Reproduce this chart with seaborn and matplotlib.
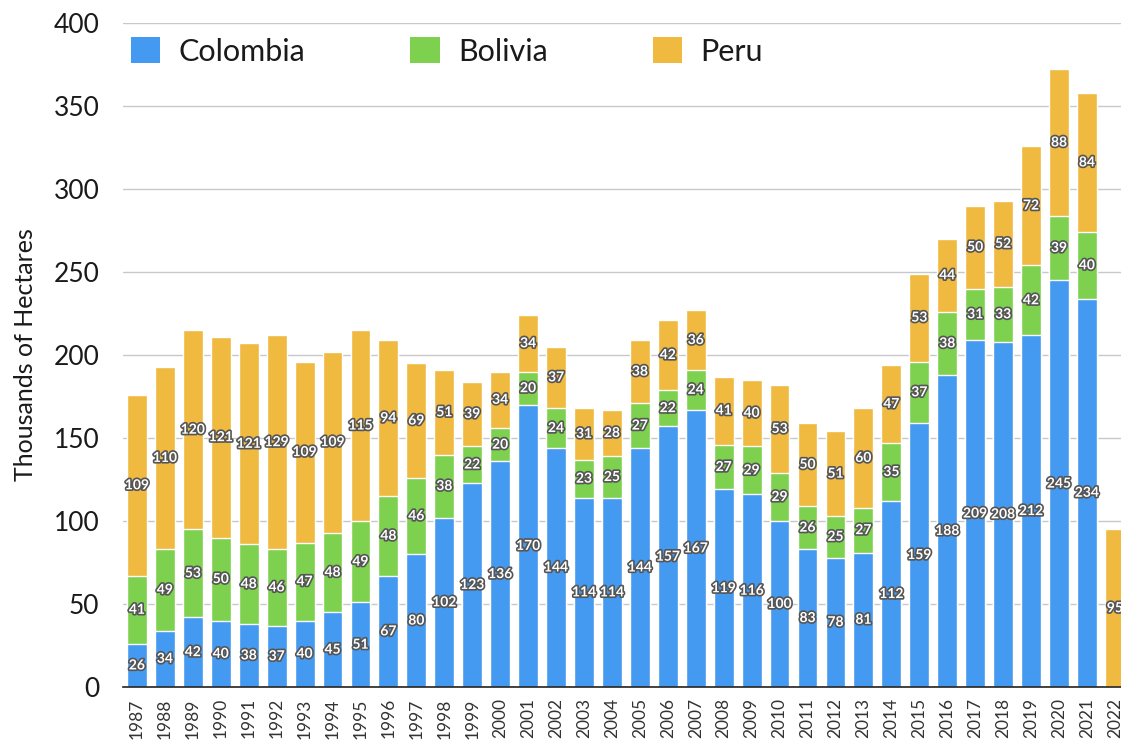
import numpy as np
import pandas as pd
import seaborn as sns
import matplotlib
matplotlib.use("Agg")
import matplotlib.pyplot as plt
from matplotlib.patches import Patch
import matplotlib.patheffects as pe

years = [str(y) for y in range(1987, 2023)]
colombia = [26, 34, 42, 40, 38, 37, 40, 45, 51, 67, 80, 102, 123, 136, 170, 144, 114, 114,
            144, 157, 167, 119, 116, 100, 83, 78, 81, 112, 159, 188, 209, 208, 212, 245, 234, 0]
bolivia = [41, 49, 53, 50, 48, 46, 47, 48, 49, 48, 46, 38, 22, 20, 20, 24, 23, 25,
           27, 22, 24, 27, 29, 29, 26, 25, 27, 35, 37, 38, 31, 33, 42, 39, 40, 0]
peru = [109, 110, 120, 121, 121, 129, 109, 109, 115, 94, 69, 51, 39, 34, 34, 37, 31, 28,
        38, 42, 36, 41, 40, 53, 50, 51, 60, 47, 53, 44, 50, 52, 72, 88, 84, 95]
series_names = ["Colombia", "Bolivia", "Peru"]
colors = ["#4499F0", "#7DD14F", "#F0B940"]

df = pd.DataFrame({"year": years, "Colombia": colombia, "Bolivia": bolivia, "Peru": peru})
df["cb"] = df["Colombia"] + df["Bolivia"]
df["total"] = df["cb"] + df["Peru"]

sns.set_style("white")
plt.rcParams["font.family"] = ["Lato", "DejaVu Sans"]

fig = plt.figure(figsize=(11.21, 7.42), dpi=100)
ax = fig.add_axes([0.1097, 0.0741, 0.8903, 0.8949])

for col, c in zip(["total", "cb", "Colombia"], [colors[2], colors[1], colors[0]]):
    sns.barplot(data=df, x="year", y=col, order=years, color=c, width=0.71,
                saturation=1, ax=ax, zorder=3)

ax.set_xlim(-0.5, 35.22)
ax.set_ylim(0, 400)
ax.set_yticks(range(0, 401, 50))
ax.yaxis.grid(True, color="#c8c8c8", linewidth=1, zorder=0)
ax.set_axisbelow(True)
for s in ["top", "right", "left"]:
    ax.spines[s].set_visible(False)
ax.spines["bottom"].set_color("#222222")
ax.spines["bottom"].set_linewidth(1.2)
ax.spines["bottom"].set_zorder(5)
ax.tick_params(axis="y", labelsize=19, length=0, pad=17, colors="#1a1a1a")
ax.tick_params(axis="x", labelsize=12.5, length=0, pad=8, labelrotation=90, colors="#333333")
ax.set_xlabel("")
ax.set_ylabel("Thousands of Hectares", fontsize=18, color="#1a1a1a", labelpad=12)

effects = [pe.withStroke(linewidth=2.4, foreground="#555555")]
bottoms = [np.zeros(len(years)), np.array(colombia), np.array(colombia) + np.array(bolivia)]
for vals, bot in zip([colombia, bolivia, peru], bottoms):
    for i, (v, b) in enumerate(zip(vals, bot)):
        if v <= 0:
            continue
        ax.text(i, b + v / 2, str(v), ha="center", va="center", fontsize=10,
                fontweight="bold", color="white", path_effects=effects, zorder=6,
                clip_on=False)

handles = [Patch(facecolor=c, edgecolor="none") for c in colors]
ax.legend(handles, series_names, loc="upper left", bbox_to_anchor=(0.008, 0.979),
          ncol=3, frameon=False, fontsize=22, handlelength=0.95, handleheight=0.95,
          handletextpad=0.6, columnspacing=3.45, borderaxespad=0, borderpad=0,
          labelcolor="#1a1a1a")

fig.savefig("out.png", dpi=100)
